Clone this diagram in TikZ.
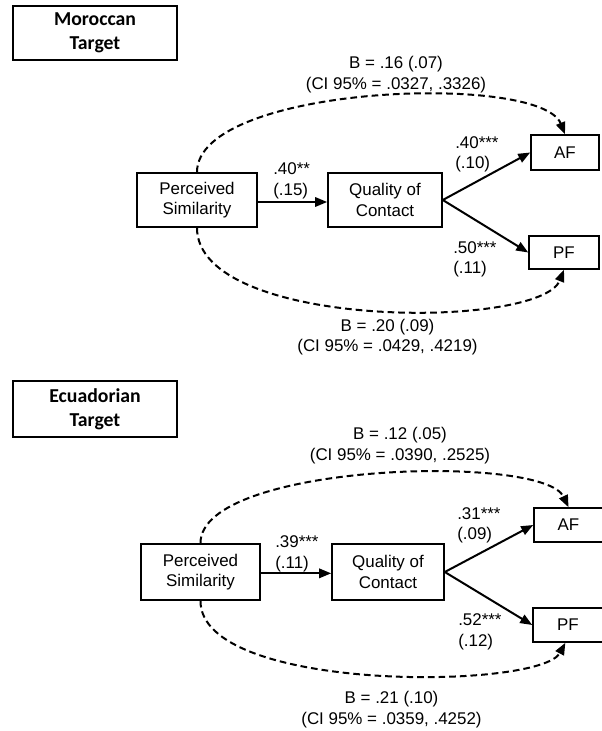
\documentclass[tikz,border=0pt]{standalone}
\usepackage{fontspec}
\setmainfont{Liberation Sans}
\newfontfamily\titlefont{Carlito}
\usetikzlibrary{arrows.meta}
\begin{document}
\begin{tikzpicture}[x=0.75pt,y=-0.75pt,
  mainfont/.style={font=\fontsize{12.7}{15.5}\selectfont},
  box/.style={draw, line width=1.2pt, inner sep=0pt, align=center, mainfont},
  ttl/.style={draw, line width=1.2pt, inner sep=0pt, align=center,
    font=\titlefont\bfseries\fontsize{14.8}{18.3}\selectfont, minimum width=123pt},
  arr/.style={line width=1.5pt, -{Triangle[length=9pt,width=7pt]}},
  darr/.style={arr, dash pattern=on 5pt off 3pt},
  lbl/.style={inner sep=0pt, align=left, anchor=west, mainfont},
  clbl/.style={inner sep=0pt, align=center, mainfont}]
\useasboundingbox (0,0) rectangle (601,731);

% ---------- Moroccan panel ----------
\node[ttl, minimum height=40.5pt] (t1) at (95,33) {Moroccan\\Target};
\node[box, minimum width=90pt, minimum height=40.5pt] (ps1) at (197,200) {Perceived\\Similarity};
\node[box, minimum width=85.5pt, minimum height=40.5pt] (qc1) at (385,200) {Quality of\\Contact};
\node[box, minimum width=51pt, minimum height=26.25pt] (af1) at (565,152.5) {AF};
\node[box, minimum width=52.5pt, minimum height=24.75pt] (pf1) at (564,252.5) {PF};

\draw[arr] ([yshift=-1.5pt]ps1.east) -- ([yshift=-1.5pt]qc1.west);
\draw[arr] (qc1.east) -- (af1.west);
\draw[arr] (qc1.east) -- (pf1.west);
\draw[darr] (ps1.north) .. controls (197,85) and (540,72) .. (af1.north);
\draw[darr] (ps1.south) .. controls (197,330) and (540,330) .. (pf1.south);

\node[lbl] (l11) at (273,181) {.40**\\(.15)};
\node[lbl] (l12) at (455,154.5) {.40***\\(.10)};
\node[lbl] (l13) at (453,259.5) {.50***\\(.11)};
\node[clbl] (b11) at (396,74.5) {B = .16 (.07)\\(CI 95\% = .0327, .3326)};
\node[clbl] (b12) at (387.5,337) {B = .20 (.09)\\(CI 95\% = .0429, .4219)};

% ---------- Ecuadorian panel ----------
\node[ttl, minimum height=42pt] (t2) at (95,409) {Ecuadorian\\Target};
\node[box, minimum width=89.25pt, minimum height=42pt] (ps2) at (200.5,572) {Perceived\\Similarity};
\node[box, minimum width=84pt, minimum height=42pt] (qc2) at (388,572) {Quality of\\Contact};
\node[box, minimum width=51.75pt, minimum height=25.5pt] (af2) at (568.5,525) {AF};
\node[box, minimum width=52.5pt, minimum height=25.5pt] (pf2) at (568,625) {PF};

\draw[arr] ([yshift=-1pt]ps2.east) -- ([yshift=-1pt]qc2.west);
\draw[arr] (qc2.east) -- (af2.west);
\draw[arr] (qc2.east) -- (pf2.west);
\draw[darr] (ps2.north) .. controls (200,463) and (543,453) .. (af2.north);
\draw[darr] (ps2.south) .. controls (200,693) and (540,690) .. ([xshift=-2pt]pf2.south);

\node[lbl] (l21) at (275,554) {.39***\\(.11)};
\node[lbl] (l22) at (457,525.5) {.31***\\(.09)};
\node[lbl] (l23) at (458,632) {.52***\\(.12)};
\node[clbl] (b21) at (400,445.5) {B = .12 (.05)\\(CI 95\% = .0390, .2525)};
\node[clbl] (b22) at (391.5,709.5) {B = .21 (.10)\\(CI 95\% = .0359, .4252)};
\end{tikzpicture}
\end{document}
